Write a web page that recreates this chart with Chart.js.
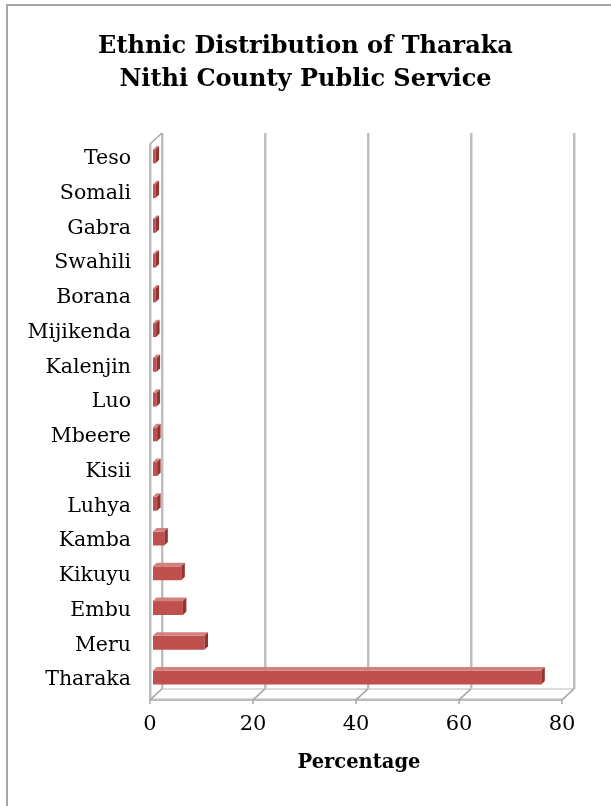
<!DOCTYPE html>
<html>
<head>
<meta charset="utf-8">
<script src="https://cdn.jsdelivr.net/npm/chart.js@4.4.0/dist/chart.umd.min.js"></script>
<style>
  html, body { margin: 0; padding: 0; background: #fff; overflow: hidden; }
</style>
</head>
<body>
<canvas id="grafico" width="611" height="806"></canvas>
<script>
// datos (orden de Excel: el primero queda abajo)
const etnias = ['Tharaka', 'Meru', 'Embu', 'Kikuyu', 'Kamba', 'Luhya', 'Kisii', 'Mbeere',
                'Luo', 'Kalenjin', 'Mijikenda', 'Borana', 'Swahili', 'Gabra', 'Somali', 'Teso'];
const porcentajes = [75.4, 10.0, 5.8, 5.5, 2.2, 0.8, 0.8, 0.8, 0.7, 0.7, 0.6, 0.5, 0.5, 0.5, 0.5, 0.5];
const ticksX = [0, 20, 40, 60, 80];
const titulo = ['Ethnic Distribution of Tharaka', 'Nithi County Public Service'];
const tituloEje = 'Percentage';

// profundidad del efecto 3D
const DX = 12, DY = 11;      // pared del fondo
const BX = 3.5, BY = 3.5;    // barras

const marco3d = {
    id: 'marco3d',
    beforeDraw(chart) {
        // marco exterior (solo izquierda y arriba)
        const ctx = chart.ctx;
        ctx.save();
        ctx.fillStyle = '#fff';
        ctx.fillRect(0, 0, chart.width, chart.height);
        ctx.strokeStyle = '#a6a6a6';
        ctx.lineWidth = 2;
        ctx.beginPath();
        ctx.moveTo(7, chart.height); ctx.lineTo(7, 5); ctx.lineTo(chart.width, 5);
        ctx.stroke();
        ctx.restore();
    },
    beforeDatasetsDraw(chart) {
        const ctx = chart.ctx;
        const x = chart.scales.x;
        const area = chart.chartArea;
        const yFrente = area.bottom + 5;
        const yFondo = yFrente - DY;
        const yTop = area.top - 6;
        ctx.save();
        ctx.lineCap = 'butt';
        // lineas del fondo
        ticksX.forEach(v => {
            const px = x.getPixelForValue(v) - 3 + DX;
            ctx.strokeStyle = '#e0e0e0'; ctx.lineWidth = 1;
            ctx.beginPath(); ctx.moveTo(px + 1.5, yTop); ctx.lineTo(px + 1.5, yFondo); ctx.stroke();
            ctx.strokeStyle = '#a8a8a8'; ctx.lineWidth = 1.5;
            ctx.beginPath(); ctx.moveTo(px, yTop); ctx.lineTo(px, yFondo); ctx.stroke();
        });
        // suelo del fondo
        const x0 = x.getPixelForValue(0) - 3;
        const x80 = x.getPixelForValue(80) - 3;
        ctx.strokeStyle = '#d0d0d0'; ctx.lineWidth = 1.5;
        ctx.beginPath(); ctx.moveTo(x0 + DX, yFondo); ctx.lineTo(x80 + DX, yFondo); ctx.stroke();
        // pared izquierda
        ctx.strokeStyle = '#a8a8a8'; ctx.lineWidth = 1.5;
        ctx.beginPath();
        ctx.moveTo(x0, yFrente); ctx.lineTo(x0, yTop + DY);
        ctx.lineTo(x0 + DX, yTop);
        ctx.stroke();
        ctx.strokeStyle = '#e2e2e2'; ctx.lineWidth = 1;
        ctx.beginPath(); ctx.moveTo(x0 + 1.5, yFrente - 1); ctx.lineTo(x0 + 1.5, yTop + DY); ctx.stroke();
        // eje del frente
        ctx.strokeStyle = '#a6a6a6'; ctx.lineWidth = 1.5;
        ctx.beginPath(); ctx.moveTo(x0, yFrente); ctx.lineTo(x80, yFrente); ctx.stroke();
        ctx.strokeStyle = '#dcdcdc'; ctx.lineWidth = 1;
        ctx.beginPath(); ctx.moveTo(x0, yFrente - 1.5); ctx.lineTo(x80, yFrente - 1.5); ctx.stroke();
        ctx.strokeStyle = '#a6a6a6'; ctx.lineWidth = 1.5;
        ticksX.forEach(v => {
            const px = x.getPixelForValue(v) - 3;
            ctx.beginPath();
            ctx.moveTo(px, yFrente + 4); ctx.lineTo(px, yFrente);
            ctx.lineTo(px + DX, yFondo);
            ctx.stroke();
        });
        ctx.restore();
    },
    afterDatasetsDraw(chart) {
        const ctx = chart.ctx;
        const meta = chart.getDatasetMeta(0);
        ctx.save();
        meta.data.forEach(bar => {
            const p = bar.getProps(['x', 'y', 'base', 'height'], true);
            const top = p.y - p.height / 2;
            const bot = p.y + p.height / 2;
            // cara superior
            ctx.fillStyle = '#d4807c';
            ctx.beginPath();
            ctx.moveTo(p.base, top); ctx.lineTo(p.base + BX, top - BY);
            ctx.lineTo(p.x + BX, top - BY); ctx.lineTo(p.x, top);
            ctx.closePath(); ctx.fill();
            // cara lateral
            ctx.fillStyle = '#8f3431';
            ctx.beginPath();
            ctx.moveTo(p.x, top); ctx.lineTo(p.x + BX, top - BY);
            ctx.lineTo(p.x + BX, bot - BY); ctx.lineTo(p.x, bot);
            ctx.closePath(); ctx.fill();
        });
        ctx.restore();
    }
};

const ctx = document.getElementById('grafico').getContext('2d');
new Chart(ctx, {
    type: 'bar',
    data: {
        labels: etnias,
        datasets: [{
            label: tituloEje,
            data: porcentajes,
            backgroundColor: '#c0504d',
            borderWidth: 0,
            barPercentage: 0.4,
            categoryPercentage: 1.0
        }]
    },
    options: {
        indexAxis: 'y',
        responsive: false,
        animation: false,
        layout: { padding: { left: 0, right: 0, top: 0, bottom: 31.3 } },
        plugins: {
            legend: { display: false },
            tooltip: { enabled: false },
            title: {
                display: true,
                text: titulo,
                color: '#000',
                font: { family: 'DejaVu Serif', size: 24, weight: 'bold', lineHeight: 33 / 24 },
                padding: { top: 30.5, bottom: 42.5 }
            }
        },
        scales: {
            x: {
                min: 0, max: 80,
                afterBuildTicks(scale) { scale.ticks = ticksX.map(v => ({ value: v })); },
                afterFit(scale) { scale.height = 79.8; },
                grid: { display: false, drawTicks: false },
                border: { display: false },
                ticks: {
                    color: '#000',
                    padding: 17.5,
                    labelOffset: -3,
                    font: { family: 'DejaVu Serif', size: 21 }
                },
                title: {
                    display: true,
                    text: tituloEje,
                    color: '#000',
                    font: { family: 'DejaVu Serif', size: 19.5, weight: 'bold' },
                    padding: { top: 0, bottom: 0 }
                }
            },
            y: {
                reverse: true,
                afterFit(scale) { scale.width = 153; },
                grid: { display: false, drawTicks: false },
                border: { display: false },
                ticks: {
                    color: '#000',
                    padding: 22,
                    labelOffset: 2.5,
                    font: { family: 'DejaVu Serif', size: 20.5 }
                }
            },
            margen: {
                // eje vacio para dejar el hueco de la derecha
                type: 'category',
                axis: 'y',
                position: 'right',
                afterFit(scale) { scale.width = 46; },
                grid: { display: false, drawTicks: false },
                border: { display: false },
                ticks: { display: false }
            }
        }
    },
    plugins: [marco3d]
});
</script>
</body>
</html>
